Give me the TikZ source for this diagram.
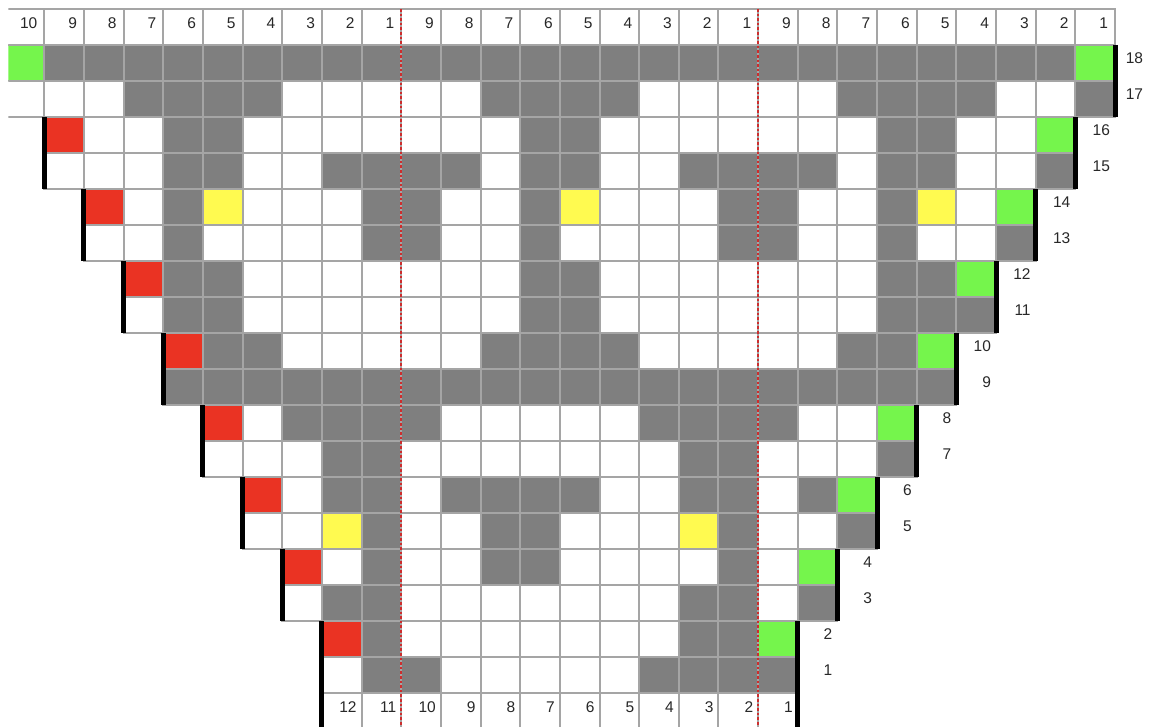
\documentclass[tikz,border=0pt]{standalone}
\usepackage{fontspec}
\setmainfont{Liberation Sans}
\usetikzlibrary{calc}
\definecolor{cw}{RGB}{255,255,255}
\definecolor{cg}{RGB}{127,127,127}
\definecolor{cr}{RGB}{234,51,35}
\definecolor{cn}{RGB}{117,245,76}
\definecolor{cy}{RGB}{255,250,80}
\definecolor{gridc}{RGB}{165,165,165}
\definecolor{dashc}{RGB}{205,45,45}
\definecolor{txt}{RGB}{40,40,40}
\newcommand\CW{39.66}
\newcommand\XO{4.6}
\newcommand\RH{36.02}
\newcommand\YT{45}
\newcommand\chartrow[3]{%
  \foreach \kode [count=\i from #2] in {#3} {
    \node[cell, fill=c\kode] (r#1c\i) at ({\XO+(\i-0.5)*\CW},{\YT+(18-#1+0.5)*\RH}) {};
  }}
\begin{document}
\begin{tikzpicture}[x=1pt,y=-1pt,
  cell/.style={rectangle, draw=gridc, line width=2pt, minimum width=39.66pt, minimum height=36.02pt, inner sep=0pt, outer sep=0pt},
  lab/.style={inner sep=0pt, outer sep=0pt, text=txt, font=\fontsize{15.5}{18}\selectfont, anchor=east},
  bar/.style={line width=5pt, black},
  dashl/.style={dashc, line width=2.2pt, dash pattern=on 2.7pt off 1.9pt}]
\useasboundingbox (0,0) rectangle (1150,727);
\begin{scope}
\clip (8.3,0) rectangle (1150,727);
% top header
\foreach \i in {1,...,28} {
  \pgfmathtruncatemacro\lab{\i<=10 ? 11-\i : (\i<=19 ? 20-\i : 29-\i)}
  \node[cell, fill=cw] (h\i) at ({\XO+(\i-0.5)*\CW},27) {};
  \node[lab] (ht\i) at ($(h\i.east)+(-7,-4)$) {\lab};
}
% bottom header
\foreach \i in {9,...,20} {
  \pgfmathtruncatemacro\lab{21-\i}
  \node[cell, fill=cw] (b\i) at ({\XO+(\i-0.5)*\CW},{\YT+18*\RH+18}) {};
  \node[lab] (bt\i) at ($(b\i.east)+(-5,-4)$) {\lab};
}
% chart rows
\chartrow{18}{1}{n,g,g,g,g,g,g,g,g,g,g,g,g,g,g,g,g,g,g,g,g,g,g,g,g,g,g,n}
\chartrow{17}{1}{w,w,w,g,g,g,g,w,w,w,w,w,g,g,g,g,w,w,w,w,w,g,g,g,g,w,w,g}
\chartrow{16}{2}{r,w,w,g,g,w,w,w,w,w,w,w,g,g,w,w,w,w,w,w,w,g,g,w,w,n}
\chartrow{15}{2}{w,w,w,g,g,w,w,g,g,g,g,w,g,g,w,w,g,g,g,g,w,g,g,w,w,g}
\chartrow{14}{3}{r,w,g,y,w,w,w,g,g,w,w,g,y,w,w,w,g,g,w,w,g,y,w,n}
\chartrow{13}{3}{w,w,g,w,w,w,w,g,g,w,w,g,w,w,w,w,g,g,w,w,g,w,w,g}
\chartrow{12}{4}{r,g,g,w,w,w,w,w,w,w,g,g,w,w,w,w,w,w,w,g,g,n}
\chartrow{11}{4}{w,g,g,w,w,w,w,w,w,w,g,g,w,w,w,w,w,w,w,g,g,g}
\chartrow{10}{5}{r,g,g,w,w,w,w,w,g,g,g,g,w,w,w,w,w,g,g,n}
\chartrow{9}{5}{g,g,g,g,g,g,g,g,g,g,g,g,g,g,g,g,g,g,g,g}
\chartrow{8}{6}{r,w,g,g,g,g,w,w,w,w,w,g,g,g,g,w,w,n}
\chartrow{7}{6}{w,w,w,g,g,w,w,w,w,w,w,w,g,g,w,w,w,g}
\chartrow{6}{7}{r,w,g,g,w,g,g,g,g,w,w,g,g,w,g,n}
\chartrow{5}{7}{w,w,y,g,w,w,g,g,w,w,w,y,g,w,w,g}
\chartrow{4}{8}{r,w,g,w,w,g,g,w,w,w,w,g,w,n}
\chartrow{3}{8}{w,g,g,w,w,w,w,w,w,w,g,g,w,g}
\chartrow{2}{9}{r,g,w,w,w,w,w,w,w,g,g,n}
\chartrow{1}{9}{w,g,g,w,w,w,w,w,g,g,g,g}
% dashed section lines
\draw[dashl] (h10.north east) -- (b10.south east);
\draw[dashl] (h19.north east) -- (b19.south east);
% black edge bars
\draw[bar] (r18c28.north east) -- (r17c28.south east);
\draw[bar] (r16c27.north east) -- (r15c27.south east);
\draw[bar] (r14c26.north east) -- (r13c26.south east);
\draw[bar] (r12c25.north east) -- (r11c25.south east);
\draw[bar] (r10c24.north east) -- (r9c24.south east);
\draw[bar] (r8c23.north east) -- (r7c23.south east);
\draw[bar] (r6c22.north east) -- (r5c22.south east);
\draw[bar] (r4c21.north east) -- (r3c21.south east);
\draw[bar] (r2c20.north east) -- (b20.south east);
\draw[bar] (r16c2.north west) -- (r15c2.south west);
\draw[bar] (r14c3.north west) -- (r13c3.south west);
\draw[bar] (r12c4.north west) -- (r11c4.south west);
\draw[bar] (r10c5.north west) -- (r9c5.south west);
\draw[bar] (r8c6.north west) -- (r7c6.south west);
\draw[bar] (r6c7.north west) -- (r5c7.south west);
\draw[bar] (r4c8.north west) -- (r3c8.south west);
\draw[bar] (r2c9.north west) -- (b9.south west);
% row numbers
\node[lab] (l18) at ($(r18c28.east)+(28,-5)$) {18};
\node[lab] (l17) at ($(r17c28.east)+(28,-5)$) {17};
\node[lab] (l16) at ($(r16c27.east)+(34.5,-5)$) {16};
\node[lab] (l15) at ($(r15c27.east)+(34.5,-5)$) {15};
\node[lab] (l14) at ($(r14c26.east)+(34.5,-5)$) {14};
\node[lab] (l13) at ($(r13c26.east)+(34.5,-5)$) {13};
\node[lab] (l12) at ($(r12c25.east)+(34.5,-5)$) {12};
\node[lab] (l11) at ($(r11c25.east)+(34.5,-5)$) {11};
\node[lab] (l10) at ($(r10c24.east)+(34.5,-5)$) {10};
\node[lab] (l9) at ($(r9c24.east)+(34.5,-5)$) {9};
\node[lab] (l8) at ($(r8c23.east)+(34.5,-5)$) {8};
\node[lab] (l7) at ($(r7c23.east)+(34.5,-5)$) {7};
\node[lab] (l6) at ($(r6c22.east)+(34.5,-5)$) {6};
\node[lab] (l5) at ($(r5c22.east)+(34.5,-5)$) {5};
\node[lab] (l4) at ($(r4c21.east)+(34.5,-5)$) {4};
\node[lab] (l3) at ($(r3c21.east)+(34.5,-5)$) {3};
\node[lab] (l2) at ($(r2c20.east)+(34.5,-5)$) {2};
\node[lab] (l1) at ($(r1c20.east)+(34.5,-5)$) {1};
\end{scope}
\end{tikzpicture}
\end{document}
